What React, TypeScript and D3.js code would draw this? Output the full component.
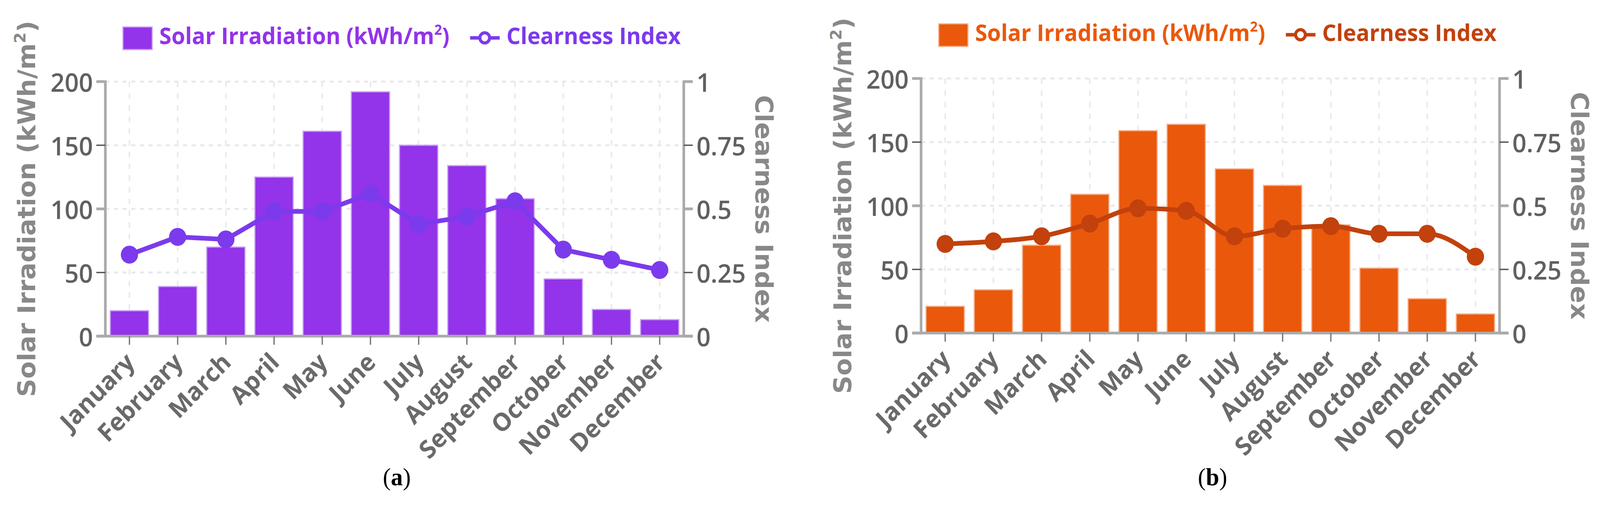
import React from 'react';
import * as d3 from 'd3';

// monthly values
const months = [
  'January', 'February', 'March', 'April', 'May', 'June',
  'July', 'August', 'September', 'October', 'November', 'December',
];
const irradiationA = [20, 39, 70, 125, 161, 192, 150, 134, 108, 45, 21, 13];
const clearnessA = [0.32, 0.39, 0.38, 0.49, 0.49, 0.56, 0.44, 0.47, 0.53, 0.34, 0.3, 0.26];
const irradiationB = [21, 34, 69, 109, 159, 164, 129, 116, 85, 51, 27, 15];
const clearnessB = [0.35, 0.36, 0.38, 0.43, 0.49, 0.48, 0.38, 0.41, 0.42, 0.39, 0.39, 0.3];
const leftTicks = [0, 50, 100, 150, 200];
const rightTicks = [0, 0.25, 0.5, 0.75, 1];
const rightTickLabels = ['0', '0.25', '0.5', '0.75', '1'];

// drawing is laid out on the reference's 4268x1296 grid and stretched to the viewport
const W = 4268;
const H = 1296;
const PLOT_W = 1543;
const PLOT_H = 652;

const tickFont = '"Open Sans", "Noto Sans", sans-serif';
const titleFont = '"DejaVu Sans", Verdana, sans-serif';

type PanelProps = {
  left: number;
  top: number;
  irradiation: number[];
  clearness: number[];
  barColor: string;
  edgeColor: string;
  lineColor: string;
  curve: d3.CurveFactory;
  caption: string;
};

function Panel({ left, top, irradiation, clearness, barColor, edgeColor, lineColor, curve, caption }: PanelProps) {
  const right = left + PLOT_W;
  const bottom = top + PLOT_H;
  const midY = (top + bottom) / 2;

  const x = d3.scaleBand<string>().domain(months).range([left, right]).paddingInner(0.205).paddingOuter(0.1025);
  const bw = x.bandwidth();
  const cx = (m: string) => (x(m) as number) + bw / 2;
  const yL = d3.scaleLinear().domain([0, 200]).range([bottom, top]);
  const yR = d3.scaleLinear().domain([0, 1]).range([bottom, top]);

  const line = d3
    .line<number>()
    .x((_, i) => cx(months[i]))
    .y((d) => yR(d))
    .curve(curve);

  return (
    <g>
      {/* grid */}
      {leftTicks.slice(1).map((t) => (
        <line key={'h' + t} x1={left} x2={right} y1={yL(t)} y2={yL(t)}
          stroke="#e8e8ee" strokeWidth={5} strokeDasharray="11 12" />
      ))}
      {months.map((m) => (
        <line key={'v' + m} x1={cx(m)} x2={cx(m)} y1={top} y2={bottom}
          stroke="#e8e8ee" strokeWidth={4} strokeDasharray="14 16" />
      ))}

      {/* bars */}
      {irradiation.map((v, i) => (
        <rect key={'b' + i} x={x(months[i])} width={bw} y={yL(v)} height={bottom - yL(v)}
          fill={barColor} stroke={edgeColor} strokeWidth={3} />
      ))}

      {/* clearness index */}
      <path d={line(clearness) as string} fill="none" stroke={lineColor} strokeWidth={12}
        strokeLinejoin="round" strokeLinecap="round" />
      {clearness.map((v, i) => (
        <circle key={'c' + i} cx={cx(months[i])} cy={yR(v)} r={23} fill={lineColor} />
      ))}

      {/* axes */}
      <line x1={left} x2={left} y1={top - 3} y2={bottom} stroke="#aaaaaa" strokeWidth={7} />
      <line x1={right} x2={right} y1={top - 3} y2={bottom} stroke="#aaaaaa" strokeWidth={7} />
      <line x1={left - 24} x2={right + 24} y1={bottom} y2={bottom} stroke="#aaaaaa" strokeWidth={7} />
      {leftTicks.map((t, i) => (
        <g key={'lt' + t}>
          <line x1={left - 24} x2={left} y1={yL(t)} y2={yL(t)}
            stroke={i % 2 ? '#555' : '#aaa'} strokeWidth={i % 2 ? 3.5 : 7} />
          <text x={left - 33} y={yL(t)} textAnchor="end" dominantBaseline="central"
            fontFamily={tickFont} fontWeight={600} fontSize={66} fill="#606060">{t}</text>
        </g>
      ))}
      {rightTicks.map((t, i) => (
        <g key={'rt' + t}>
          <line x1={right} x2={right + 24} y1={yR(t)} y2={yR(t)}
            stroke={i % 2 ? '#555' : '#aaa'} strokeWidth={i % 2 ? 3.5 : 7} />
          <text x={right + 34} y={yR(t)} textAnchor="start" dominantBaseline="central"
            fontFamily={tickFont} fontWeight={600} fontSize={66} fill="#606060">{rightTickLabels[i]}</text>
        </g>
      ))}
      {months.map((m) => (
        <g key={'x' + m}>
          <line x1={cx(m)} x2={cx(m)} y1={bottom} y2={bottom + 22} stroke="#777" strokeWidth={3.5} />
          <text transform={`translate(${cx(m)},${bottom + 53}) rotate(-45)`} textAnchor="end"
            dominantBaseline="central" fontFamily={tickFont} fontWeight={700} fontSize={64} fill="#6a6a6a">{m}</text>
        </g>
      ))}

      {/* axis titles */}
      <text transform={`translate(${left - 187},${midY}) rotate(-90)`} textAnchor="middle"
        fontFamily={titleFont} fontWeight="bold" fontSize={65} fill="#888">
        Solar Irradiation (kWh/m<tspan dy={-26} fontSize={40}>2</tspan><tspan dy={26}>)</tspan>
      </text>
      <text transform={`translate(${right + 191},${midY}) rotate(90)`} textAnchor="middle"
        fontFamily={titleFont} fontWeight="bold" fontSize={65} fill="#888">Clearness Index</text>

      {/* legend */}
      <rect x={left + 47} y={top - 140} width={78} height={58} fill={barColor} stroke={edgeColor} strokeWidth={3} />
      <text x={left + 144} y={top - 96} fontFamily={tickFont} fontWeight={700} fontSize={59} fill={barColor}>
        Solar Irradiation (kWh/m<tspan dy={-24} fontSize={36}>2</tspan><tspan dy={24}>)</tspan>
      </text>
      <line x1={left + 973} x2={left + 1052} y1={top - 112} y2={top - 112} stroke={lineColor} strokeWidth={9} />
      <circle cx={left + 1012} cy={top - 112} r={13} fill="#fff" stroke={lineColor} strokeWidth={8} />
      <text x={left + 1070} y={top - 96} fontFamily={tickFont} fontWeight={700} fontSize={59} fill={lineColor}>
        Clearness Index
      </text>

      {/* caption */}
      <text x={left + PLOT_W / 2 + 6} y={1243} textAnchor="middle" fontFamily='"Liberation Serif", "Times New Roman", serif'
        fontSize={64} fill="#000">
        (<tspan fontWeight="bold">{caption}</tspan>)
      </text>
    </g>
  );
}

export default function App() {
  return (
    <svg viewBox={`0 0 ${W} ${H}`} preserveAspectRatio="none"
      style={{ position: 'absolute', left: 0, top: 0, width: '100vw', height: '100vh', background: '#fff' }}>
      <rect width={W} height={H} fill="#fff" />
      <Panel left={281} top={209} irradiation={irradiationA} clearness={clearnessA}
        barColor="#9333ea" edgeColor="#c9a3f5" lineColor="#7c3aed" curve={d3.curveLinear} caption="a" />
      <Panel left={2457} top={201} irradiation={irradiationB} clearness={clearnessB}
        barColor="#ea580c" edgeColor="#f6b28e" lineColor="#c2410c" curve={d3.curveMonotoneX} caption="b" />
    </svg>
  );
}
